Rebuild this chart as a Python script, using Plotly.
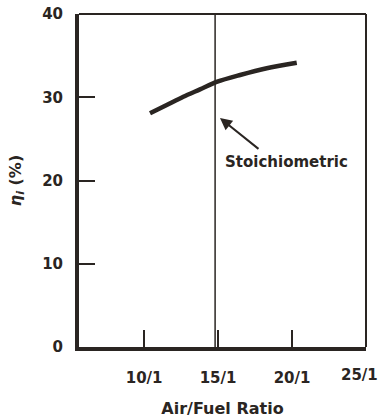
import plotly.graph_objects as go

# Indicated thermal efficiency vs air/fuel ratio
afr = [10.40, 11.53, 12.65, 13.78, 14.95, 16.49, 18.29, 20.32]
eta_i = [28.07, 29.07, 30.07, 30.95, 31.87, 32.67, 33.48, 34.15]

stoich_afr = 14.8

x_ticks = [10, 15, 20]
x_tick_text = ["10/1", "15/1", "20/1"]
y_ticks = [0, 10, 20, 30, 40]

INK = "#2a2522"
FONT = "DejaVu Sans"

fig = go.Figure()

fig.add_trace(go.Scatter(
    x=afr, y=eta_i, mode="lines",
    line=dict(color=INK, width=4.5, shape="spline", smoothing=0.8),
    showlegend=False, hoverinfo="skip",
))

# Stoichiometric marker line
fig.add_trace(go.Scatter(
    x=[stoich_afr, stoich_afr], y=[0, 40], mode="lines",
    line=dict(color=INK, width=1.5),
    showlegend=False, hoverinfo="skip",
))

# Top and right frame edges (thinner than the axes)
fig.add_shape(type="line", xref="paper", yref="paper", x0=0, x1=1, y0=1, y1=1,
              line=dict(color=INK, width=2))
fig.add_shape(type="line", xref="paper", yref="paper", x0=1, x1=1, y0=0, y1=1,
              line=dict(color=INK, width=2))

fig.add_annotation(
    x=15.13, y=27.5, ax=40, ay=32, axref="pixel", ayref="pixel",
    text="", showarrow=True, arrowhead=2, arrowsize=1.2, arrowwidth=2,
    arrowcolor=INK,
)
fig.add_annotation(
    x=15.34, y=22.2, text="Stoichiometric", showarrow=False,
    xanchor="left", yanchor="middle",
    font=dict(family=FONT, size=15, color=INK, weight="bold"),
)
fig.add_annotation(
    x=25, y=0, text="25/1", showarrow=False,
    xanchor="center", yanchor="top", xshift=-7, yshift=-17,
    font=dict(family=FONT, size=15, color=INK, weight="bold"),
)

fig.update_layout(
    width=381, height=420,
    margin=dict(l=79, r=15, t=14, b=73),
    paper_bgcolor="white", plot_bgcolor="white",
    font=dict(family=FONT, color=INK),
    xaxis=dict(
        range=[5.6, 25], showgrid=False, zeroline=False, automargin=False,
        showline=True, linewidth=3.5, linecolor=INK,
        tickmode="array", tickvals=x_ticks, ticktext=x_tick_text,
        ticks="inside", ticklen=17, tickwidth=2, tickcolor=INK,
        ticklabelstandoff=14,
        tickfont=dict(family=FONT, size=15, color=INK, weight="bold"),
        title=dict(text="Air/Fuel Ratio", standoff=18,
                   font=dict(family=FONT, size=16, color=INK, weight="bold")),
    ),
    yaxis=dict(
        range=[0, 40], showgrid=False, zeroline=False, automargin=False,
        showline=True, linewidth=4, linecolor=INK,
        tickmode="array", tickvals=y_ticks,
        ticks="inside", ticklen=16, tickwidth=2, tickcolor=INK,
        ticklabelstandoff=9,
        tickfont=dict(family=FONT, size=15, color=INK, weight="bold"),
        title=dict(text="<i>η</i><sub><i>i</i></sub> (%)", standoff=18,
                   font=dict(family=FONT, size=16, color=INK, weight="bold")),
    ),
)

fig.write_html("out.html")
